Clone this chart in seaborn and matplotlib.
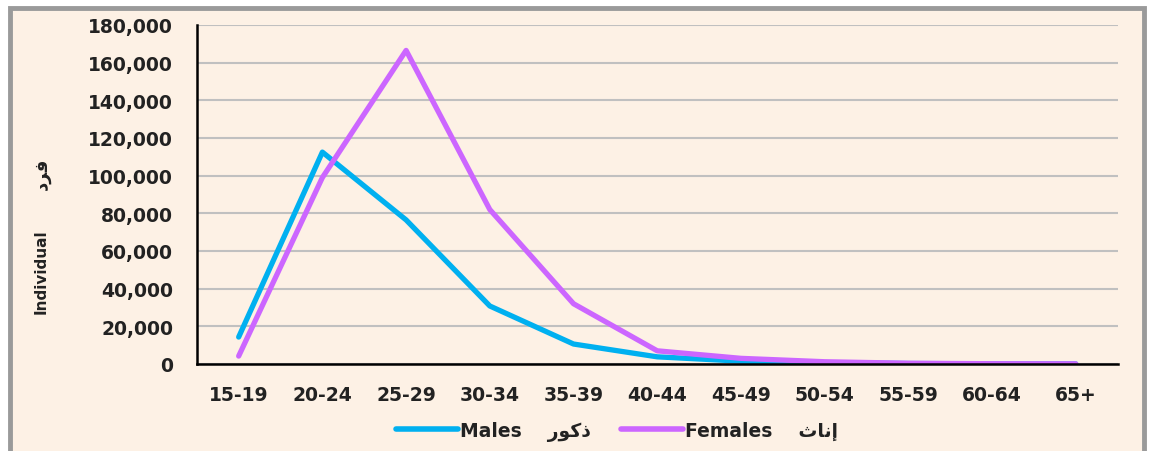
import matplotlib
matplotlib.use("Agg")
import matplotlib.pyplot as plt
import matplotlib.ticker as mticker
from matplotlib.patches import Rectangle
import pandas as pd
import seaborn as sns

# ── Data ────────────────────────────────────────────────────────────────────
age_groups = ["15-19", "20-24", "25-29", "30-34", "35-39", "40-44",
              "45-49", "50-54", "55-59", "60-64", "65+"]
males = [14300, 112500, 76500, 30800, 10600, 3800, 1500, 700, 250, 100, 50]
females = [4200, 99000, 166500, 82000, 32000, 7000, 3000, 1200, 400, 150, 80]

# Arabic labels in presentation forms (matplotlib does no shaping / bidi)
males_ar = "\uFEAD\uFEEE\uFEDB\uFEAB"      # ذكور
females_ar = "\uFE99\uFE8E\uFEE7\uFE87"    # إناث
individual_ar = "\uFEA9\uFEAE\uFED3"       # فرد

df = pd.DataFrame({
    "age": age_groups * 2,
    "count": males + females,
    "sex": ["Males"] * len(age_groups) + ["Females"] * len(age_groups),
})

bg = "#fdf1e5"
sns.set_style("white")
plt.rcParams["font.family"] = ["DejaVu Sans"]

fig = plt.figure(figsize=(11.51, 4.52), dpi=100)
fig.patch.set_facecolor("white")
fig.patches.append(Rectangle((0.009, -0.02), 0.985, 1.0, transform=fig.transFigure,
                             facecolor=bg, edgecolor="#9a9a9a", linewidth=3.5, zorder=-10))
ax = fig.add_axes([0.171, 0.1925, 0.8, 0.75])
ax.set_facecolor(bg)

sns.lineplot(data=df, x="age", y="count", hue="sex",
             palette={"Males": "#00b0f0", "Females": "#cc66ff"},
             linewidth=3.8, ax=ax, legend=False, sort=False)

# ── Axes styling ─────────────────────────────────────────────────────────────
ax.set_xlim(-0.5, len(age_groups) - 0.5)
ax.set_ylim(0, 180000)
ax.yaxis.set_major_locator(mticker.MultipleLocator(20000))
ax.yaxis.set_major_formatter(mticker.FuncFormatter(lambda v, p: f"{int(v):,}"))
ax.set_xticks(range(len(age_groups)))
ax.set_xticklabels(age_groups)
ax.set_xticks([i - 0.5 for i in range(len(age_groups) + 1)], minor=True)
ax.tick_params(axis="x", which="major", length=0, pad=15)
ax.tick_params(axis="x", which="minor", length=6, width=1.5, direction="out", color="black")
ax.tick_params(axis="y", length=6, width=1.5, direction="out", color="black", pad=11)
for lab in ax.get_xticklabels() + ax.get_yticklabels():
    lab.set_fontsize(13.5)
    lab.set_fontweight("bold")
    lab.set_color("#222222")

ax.grid(axis="y", color="#c0c0c0", linewidth=1.5)
ax.set_axisbelow(True)
for s in ["top", "right"]:
    ax.spines[s].set_visible(False)
for s in ["left", "bottom"]:
    ax.spines[s].set_color("black")
    ax.spines[s].set_linewidth(1.8)
ax.set_xlabel("")
ax.set_ylabel("")

fig.text(0.036, 0.40, "Individual", rotation=90, ha="center", va="center",
         fontsize=11, fontweight="bold", color="#222222")
fig.text(0.036, 0.615, individual_ar, rotation=90, ha="center", va="center",
         fontsize=13, fontweight="bold", color="#222222")

# ── Legend ───────────────────────────────────────────────────────────────────
handles = [plt.Line2D([], [], color="#00b0f0", lw=4, solid_capstyle="round"),
           plt.Line2D([], [], color="#cc66ff", lw=4, solid_capstyle="round")]
labels = [f"Males    {males_ar}", f"Females    {females_ar}"]
leg = fig.legend(handles, labels, loc="center", bbox_to_anchor=(0.536, 0.045),
                 ncol=2, frameon=False, handlelength=3.3, handletextpad=0.1,
                 columnspacing=1.6, prop={"size": 13.5, "weight": "bold"})
for t in leg.get_texts():
    t.set_color("#222222")

fig.savefig("out.png", dpi=100, facecolor="white")
